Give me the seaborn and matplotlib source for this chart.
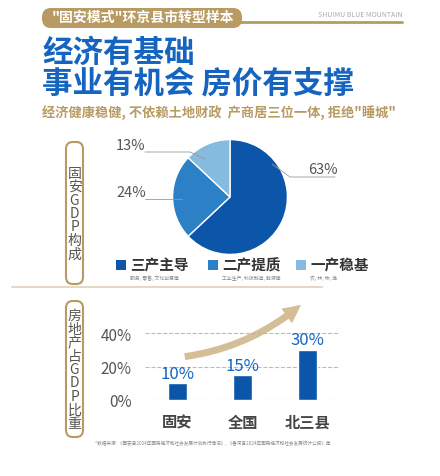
import matplotlib.pyplot as plt
import seaborn as sns
from matplotlib.patches import FancyBboxPatch, FancyArrowPatch

sns.set_theme(style="white")
plt.rcParams['font.family'] = ['Noto Sans CJK SC', 'DejaVu Sans']

# data
pie_labels = ["三产主导", "二产提质", "一产稳基"]
pie_subs = ["服务, 零售, 文化创意等", "工业生产, 科技制造, 能源等", "农, 林, 牧, 渔"]
pie_values = [63, 24, 13]
bar_cats = ["固安", "全国", "北三县"]
bar_values = [10, 15, 30]

DARK = "#0b56a8"
MID = "#2b80c6"
LIGHT = "#86bbe0"
GOLD = "#b89a63"
GREY = "#555555"

W, H = 440, 477
fig = plt.figure(figsize=(W / 100, H / 100), dpi=100)
fig.patch.set_facecolor("white")

def fx(x): return x / W
def fy(y): return 1 - y / H

# header
fig.patches.append(FancyBboxPatch((fx(42), fy(29)), fx(200), 20 / H, boxstyle="round,pad=0,rounding_size=0.02",
                                  transform=fig.transFigure, fc=GOLD, ec="none"))
fig.add_artist(plt.Line2D([fx(240), fx(402)], [fy(23), fy(23)], transform=fig.transFigure, color=GOLD, lw=2))
fig.text(fx(143), fy(18), '"固安模式"环京县市转型样本', color="white", fontsize=10, weight="bold", ha="center", va="center")
fig.text(fx(402), fy(15), "SHUIMU BLUE MOUNTAIN", color="#aaaaaa", fontsize=5, ha="right", va="center")
fig.text(fx(42), fy(53), "经济有基础", color="#1565c0", fontsize=22, weight="bold", va="center")
fig.text(fx(42), fy(83), "事业有机会 房价有支撑", color="#1565c0", fontsize=22, weight="bold", va="center")
fig.text(fx(42), fy(113), '经济健康稳健, 不依赖土地财政  产商居三位一体, 拒绝"睡城"', color=GOLD, fontsize=9.5,
         weight="bold", va="center")

# side labels
for y0, h, txt in [(143, 142, "固\n安\nG\nD\nP\n构\n成"), (302, 136, "房\n地\n产\n占\nG\nD\nP\n比\n重")]:
    fig.patches.append(FancyBboxPatch((fx(66), fy(y0 + h)), fx(17), h / H, boxstyle="round,pad=0,rounding_size=0.015",
                                      transform=fig.transFigure, fc="white", ec=GOLD, lw=1.5))
    fig.text(fx(74.5), fy(y0 + h / 2), txt, fontsize=10, color=GREY, ha="center", va="center", linespacing=0.95)

# pie
ax1 = fig.add_axes([fx(172), fy(256), fx(116), 116 / H])
ax1.pie(pie_values, colors=[DARK, MID, LIGHT], startangle=90, counterclock=False,
        wedgeprops=dict(edgecolor="white", linewidth=1))
ax1.set_xlim(-1.01, 1.01)
ax1.set_ylim(-1.01, 1.01)
ax1.set_aspect("equal")
fig.text(fx(308), fy(170), f"{pie_values[0]}%", fontsize=10.5, color=GREY, va="center")
fig.text(fx(116), fy(193), f"{pie_values[1]}%", fontsize=10.5, color=GREY, va="center")
fig.text(fx(116), fy(146), f"{pie_values[2]}%", fontsize=10.5, color=GREY, va="center")
fig.add_artist(plt.Line2D([fx(145), fx(182)], [fy(200), fy(200)], transform=fig.transFigure, color="#999999", lw=0.6))
fig.add_artist(plt.Line2D([fx(145), fx(190), fx(205)], [fy(153), fy(153), fy(160)], transform=fig.transFigure, color="#999999", lw=0.6))
fig.add_artist(plt.Line2D([fx(272), fx(290), fx(335)], [fy(165), fy(178), fy(178)], transform=fig.transFigure, color="#999999", lw=0.6))

# legend
for x0, c, lab, sub in zip([116, 208, 296], [DARK, MID, LIGHT], pie_labels, pie_subs):
    fig.patches.append(plt.Rectangle((fx(x0), fy(271)), fx(10), 10 / H, transform=fig.transFigure, fc=c, ec="none"))
    fig.text(fx(x0 + 14), fy(266), lab, fontsize=10.5, weight="bold", color="#333333", va="center")
    fig.text(fx(x0 + 14), fy(278), sub, fontsize=3.5, color="#888888", va="center")
fig.add_artist(plt.Line2D([fx(12), fx(322)], [fy(288), fy(288)], transform=fig.transFigure, color="#e3d8c3", lw=1.5))

# bar chart
ax2 = fig.add_axes([fx(145), fy(401), fx(195), 72 / H])
sns.barplot(x=bar_cats, y=bar_values, color=DARK, width=0.3, ax=ax2, saturation=1)
ax2.set_ylim(0, 43)
ax2.set_yticks([0, 20, 40])
ax2.set_yticklabels(["0%", "20%", "40%"], fontsize=11, color=GREY)
ax2.tick_params(axis="x", labelsize=11, labelcolor="#444444", pad=4)
for lbl in ax2.get_xticklabels():
    lbl.set_fontweight("bold")
ax2.yaxis.grid(True, linestyle="--", color="#bbbbbb", lw=0.8)
ax2.set_axisbelow(True)
sns.despine(ax=ax2, left=True, bottom=True)
ax2.patch.set_alpha(0)
for i, v in enumerate(bar_values):
    ax2.text(i, v + 0.8, f"{v}%", ha="center", va="bottom", fontsize=12, color="#1565c0")

arrow = FancyArrowPatch((fx(182), fy(358)), (fx(303), fy(304)), transform=fig.transFigure,
                        connectionstyle="arc3,rad=0.15", arrowstyle="simple,head_width=13,head_length=13,tail_width=5",
                        fc="#cdb385", ec="none", alpha=0.85)
fig.patches.append(arrow)

fig.text(fx(95), fy(443), "*数据来源: 《固安县2024年国民经济和社会发展计划执行情况》, 《香河县2024年国民经济和社会发展统计公报》等",
         fontsize=3.3, color="#888888", va="center")

fig.savefig("out.png", dpi=100)
